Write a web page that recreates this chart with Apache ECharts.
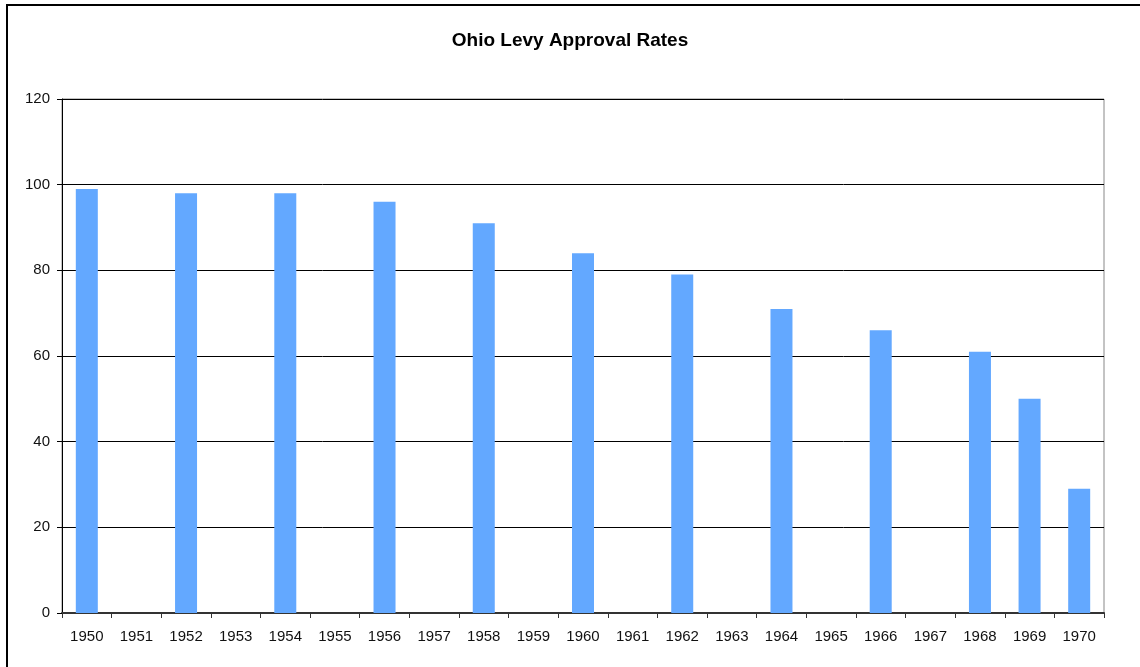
<!DOCTYPE html>
<html>
<head>
<meta charset="utf-8">
<script src="https://cdn.jsdelivr.net/npm/echarts@6/dist/echarts.min.js"></script>
<style>
  html, body { margin: 0; padding: 0; background: #fff; }
  #chart { width: 1140px; height: 667px; }
</style>
</head>
<body>
<div id="chart"></div>
<script>
// years on the x axis
var years = ["1950", "1951", "1952", "1953", "1954", "1955", "1956", "1957", "1958", "1959",
  "1960", "1961", "1962", "1963", "1964", "1965", "1966", "1967", "1968", "1969", "1970"];
// approval rate (%), null where no levy data
var rates = [99, null, 98, null, 98, null, 96, null, 91, null,
  84, null, 79, null, 71, null, 66, null, 61, 50, 29];
var yTicks = [0, 20, 40, 60, 80, 100, 120];

var chart = echarts.init(document.getElementById("chart"));
var option = {
  backgroundColor: "#fff",
  animation: false,
  title: {
    text: "Ohio Levy Approval Rates",
    left: "center",
    top: 26,
    textStyle: {
      fontFamily: "Liberation Sans, Arial",
      fontSize: 19,
      fontWeight: "bold",
      color: "#000"
    }
  },
  grid: {
    left: 62,
    right: 36,
    top: 99,
    bottom: 54,
    show: true,
    borderColor: "#888",
    borderWidth: 1
  },
  xAxis: {
    type: "category",
    data: years,
    axisLine: { lineStyle: { color: "#333", width: 2 } },
    axisTick: { show: true, length: 5, lineStyle: { color: "#333" } },
    axisLabel: {
      color: "#111",
      fontFamily: "Liberation Sans, Arial",
      fontSize: 15,
      margin: 16,
      interval: 0
    }
  },
  yAxis: {
    type: "value",
    min: yTicks[0],
    max: yTicks[yTicks.length - 1],
    interval: 20,
    axisLine: { show: true, lineStyle: { color: "#000", width: 1 } },
    axisTick: { show: true, length: 5, lineStyle: { color: "#000" } },
    axisLabel: {
      color: "#111",
      fontFamily: "Liberation Sans, Arial",
      fontSize: 15,
      margin: 12
    },
    splitLine: {
      show: true,
      lineStyle: { color: "#000", width: 1 }
    }
  },
  series: [
    {
      type: "bar",
      data: rates,
      barWidth: 22,
      itemStyle: { color: "#63A8FF" }
    }
  ],
  graphic: [
    {
      type: "rect",
      shape: { x: 7, y: 5, width: 1150, height: 700 },
      style: { fill: "none", stroke: "#000", lineWidth: 2 },
      silent: true
    }
  ]
};
chart.setOption(option);
window.addEventListener("resize", function () {
  chart.resize();
});
</script>
</body>
</html>
